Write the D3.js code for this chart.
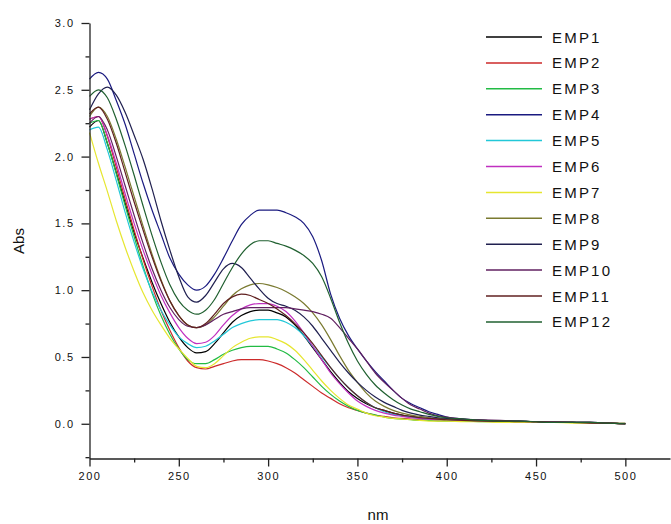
<!DOCTYPE html>
<html><head><meta charset="utf-8">
<script src="https://cdn.jsdelivr.net/npm/d3@7"></script>
<style>
html,body{margin:0;padding:0;background:#fff;}
svg text{font-family:"Liberation Sans",Arial,sans-serif;fill:#111;}
</style></head>
<body><svg id="c" width="671" height="524"></svg>
<script>
const wavelengths = [200,205,210,215,220,225,230,235,240,245,250,255,260,265,270,275,280,285,290,295,300,305,310,315,320,325,330,335,340,345,350,355,360,365,370,375,380,385,390,395,400,410,420,430,440,450,460,470,480,490,500];

const seriesNames = ["EMP1","EMP2","EMP3","EMP4","EMP5","EMP6","EMP7","EMP8","EMP9","EMP10","EMP11","EMP12"];
const seriesColors = ["#000000","#cc2a2a","#22bb44","#1a1a80","#22c8d8","#c030c0","#e6e630","#7a7a30","#202050","#602060","#602020","#206030"];

const EMP1 = [2.22,2.27,2.10,1.88,1.65,1.43,1.24,1.06,0.90,0.76,0.65,0.57,0.53,0.54,0.60,0.68,0.76,0.81,0.84,0.85,0.85,0.83,0.80,0.74,0.66,0.57,0.48,0.39,0.31,0.24,0.19,0.15,0.12,0.10,0.08,0.065,0.055,0.045,0.04,0.035,0.03,0.025,0.02,0.02,0.015,0.01,0.01,0.01,0.005,0.005,0.0];
const EMP2 = [2.28,2.30,2.15,1.92,1.68,1.45,1.23,1.03,0.85,0.70,0.57,0.47,0.42,0.41,0.43,0.45,0.47,0.48,0.48,0.48,0.47,0.45,0.42,0.38,0.33,0.28,0.23,0.19,0.15,0.12,0.10,0.08,0.065,0.055,0.045,0.04,0.035,0.03,0.03,0.025,0.025,0.02,0.02,0.015,0.015,0.01,0.01,0.01,0.005,0.005,0.0];
const EMP3 = [2.25,2.27,2.10,1.87,1.63,1.40,1.18,0.98,0.81,0.67,0.56,0.48,0.45,0.45,0.48,0.52,0.55,0.57,0.58,0.58,0.58,0.56,0.53,0.48,0.42,0.35,0.28,0.22,0.17,0.13,0.10,0.08,0.065,0.05,0.04,0.035,0.03,0.025,0.025,0.02,0.02,0.02,0.015,0.015,0.01,0.01,0.01,0.01,0.005,0.005,0.0];
const EMP4 = [2.58,2.63,2.58,2.42,2.24,2.02,1.80,1.60,1.42,1.24,1.12,1.04,1.00,1.03,1.12,1.24,1.37,1.49,1.56,1.60,1.60,1.60,1.58,1.55,1.50,1.40,1.22,0.97,0.79,0.66,0.56,0.47,0.39,0.32,0.25,0.19,0.15,0.12,0.09,0.07,0.05,0.035,0.025,0.02,0.02,0.015,0.01,0.01,0.01,0.005,0.0];
const EMP5 = [2.20,2.22,2.05,1.82,1.58,1.36,1.16,0.99,0.85,0.74,0.65,0.60,0.57,0.58,0.62,0.67,0.72,0.75,0.77,0.78,0.78,0.78,0.76,0.72,0.66,0.58,0.50,0.42,0.34,0.27,0.21,0.16,0.12,0.09,0.07,0.06,0.05,0.04,0.035,0.03,0.03,0.025,0.02,0.02,0.015,0.015,0.01,0.01,0.005,0.005,0.0];
const EMP6 = [2.28,2.30,2.16,1.95,1.72,1.50,1.30,1.12,0.96,0.83,0.72,0.64,0.60,0.61,0.66,0.74,0.81,0.86,0.89,0.90,0.90,0.88,0.84,0.77,0.68,0.58,0.48,0.38,0.30,0.23,0.17,0.13,0.10,0.08,0.065,0.055,0.045,0.04,0.035,0.03,0.03,0.025,0.02,0.015,0.015,0.01,0.01,0.01,0.005,0.005,0.0];
const EMP7 = [2.18,1.95,1.74,1.52,1.32,1.14,0.98,0.85,0.74,0.64,0.56,0.49,0.43,0.42,0.45,0.51,0.57,0.61,0.64,0.65,0.65,0.63,0.60,0.55,0.48,0.40,0.32,0.25,0.19,0.14,0.11,0.08,0.06,0.05,0.04,0.035,0.03,0.025,0.02,0.02,0.02,0.015,0.015,0.01,0.01,0.01,0.01,0.005,0.005,0.005,0.0];
const EMP8 = [2.30,2.37,2.30,2.13,1.92,1.70,1.48,1.27,1.08,0.92,0.81,0.74,0.72,0.74,0.80,0.88,0.96,1.01,1.04,1.05,1.04,1.02,0.99,0.95,0.90,0.83,0.74,0.63,0.51,0.40,0.31,0.23,0.17,0.13,0.10,0.08,0.065,0.055,0.045,0.04,0.035,0.03,0.025,0.02,0.02,0.015,0.015,0.01,0.01,0.005,0.005];
const EMP9 = [2.35,2.47,2.52,2.46,2.33,2.16,1.98,1.76,1.52,1.30,1.10,0.95,0.91,0.96,1.06,1.16,1.20,1.17,1.09,1.01,0.94,0.90,0.88,0.85,0.80,0.73,0.64,0.55,0.46,0.38,0.31,0.25,0.20,0.16,0.13,0.10,0.08,0.065,0.055,0.045,0.04,0.03,0.025,0.02,0.02,0.015,0.01,0.01,0.01,0.005,0.0];
const EMP10 = [2.25,2.30,2.20,2.00,1.78,1.56,1.35,1.16,1.00,0.87,0.78,0.73,0.72,0.74,0.78,0.82,0.84,0.86,0.87,0.87,0.87,0.87,0.87,0.86,0.85,0.84,0.82,0.79,0.72,0.64,0.56,0.47,0.38,0.31,0.25,0.19,0.14,0.11,0.08,0.06,0.05,0.035,0.03,0.025,0.02,0.015,0.015,0.01,0.01,0.005,0.0];
const EMP11 = [2.32,2.37,2.28,2.10,1.88,1.66,1.45,1.25,1.07,0.92,0.81,0.74,0.72,0.75,0.82,0.90,0.95,0.97,0.96,0.93,0.90,0.86,0.81,0.75,0.68,0.60,0.51,0.42,0.34,0.27,0.21,0.16,0.12,0.10,0.08,0.065,0.055,0.045,0.04,0.035,0.03,0.025,0.02,0.02,0.015,0.015,0.01,0.01,0.005,0.005,0.0];
const EMP12 = [2.45,2.50,2.44,2.28,2.08,1.86,1.63,1.41,1.21,1.04,0.92,0.85,0.82,0.85,0.93,1.05,1.17,1.27,1.34,1.37,1.37,1.35,1.33,1.30,1.26,1.20,1.10,0.94,0.76,0.60,0.47,0.37,0.29,0.23,0.18,0.14,0.11,0.09,0.07,0.055,0.045,0.035,0.025,0.02,0.02,0.015,0.01,0.01,0.01,0.005,0.0];

const xMajorTicks = [200,250,300,350,400,450,500];
const xMinorTicks = [225,275,325,375,425,475];
const yMajorTicks = [0.0,0.5,1.0,1.5,2.0,2.5,3.0];
const yMinorTicks = [-0.25,0.25,0.75,1.25,1.75,2.25,2.75];
const xTitle = "nm";
const yTitle = "Abs";

const seriesValues = [EMP1,EMP2,EMP3,EMP4,EMP5,EMP6,EMP7,EMP8,EMP9,EMP10,EMP11,EMP12];
const series = seriesNames.map((name,i)=>({name, color:seriesColors[i], pts: wavelengths.map((w,j)=>[w, seriesValues[i][j]])}));

const svg = d3.select("#c");
const x = d3.scaleLinear().domain([200,525]).range([89.5,670]);
const y = d3.scaleLinear().domain([-0.26,3.0]).range([458.5,23]);

// data lines
const line = d3.line().x(d=>x(d[0])).y(d=>y(d[1])).curve(d3.curveMonotoneX);
svg.append("g").selectAll("path").data(series).join("path")
  .attr("d", d=>line(d.pts)).attr("fill","none")
  .attr("stroke", d=>d.color).attr("stroke-width",1.2);

// axes
const xAxis = svg.append("g").attr("transform","translate(0,458.5)")
  .call(d3.axisBottom(x).tickValues(xMajorTicks).tickFormat(d3.format("d")).tickSize(8).tickSizeOuter(0).tickPadding(6));
svg.append("g").attr("transform","translate(0,458.5)")
  .call(d3.axisBottom(x).tickValues(xMinorTicks).tickFormat("").tickSize(4).tickSizeOuter(0))
  .select(".domain").remove();
const yAxis = svg.append("g").attr("transform","translate(89.5,0)")
  .call(d3.axisLeft(y).tickValues(yMajorTicks).tickFormat(d3.format(".1f")).tickSize(8).tickSizeOuter(0).tickPadding(7));
svg.append("g").attr("transform","translate(89.5,0)")
  .call(d3.axisLeft(y).tickValues(yMinorTicks).tickFormat("").tickSize(4).tickSizeOuter(0))
  .select(".domain").remove();
svg.selectAll(".domain, .tick line").attr("stroke","#222").attr("stroke-width",1.3);
svg.selectAll(".tick text").attr("font-size",11).style("letter-spacing","1.5px")
  .style("font-family","'Liberation Sans',Arial,sans-serif").attr("fill","#222");

// titles
svg.append("text").attr("x",378).attr("y",520).attr("text-anchor","middle")
  .attr("font-size",15).text(xTitle);
svg.append("text").attr("transform","translate(24,241) rotate(-90)").attr("text-anchor","middle")
  .attr("font-size",15).text(yTitle);

// legend
const lg = svg.append("g");
series.forEach((s,i)=>{
  const yy = 37 + i*25.9;
  lg.append("line").attr("x1",486).attr("x2",542).attr("y1",yy).attr("y2",yy)
    .attr("stroke",s.color).attr("stroke-width",1.5);
  lg.append("text").attr("x",552).attr("y",yy+5.5).attr("font-size",15)
    .style("letter-spacing","2.2px").text(s.name);
});
</script></body></html>
